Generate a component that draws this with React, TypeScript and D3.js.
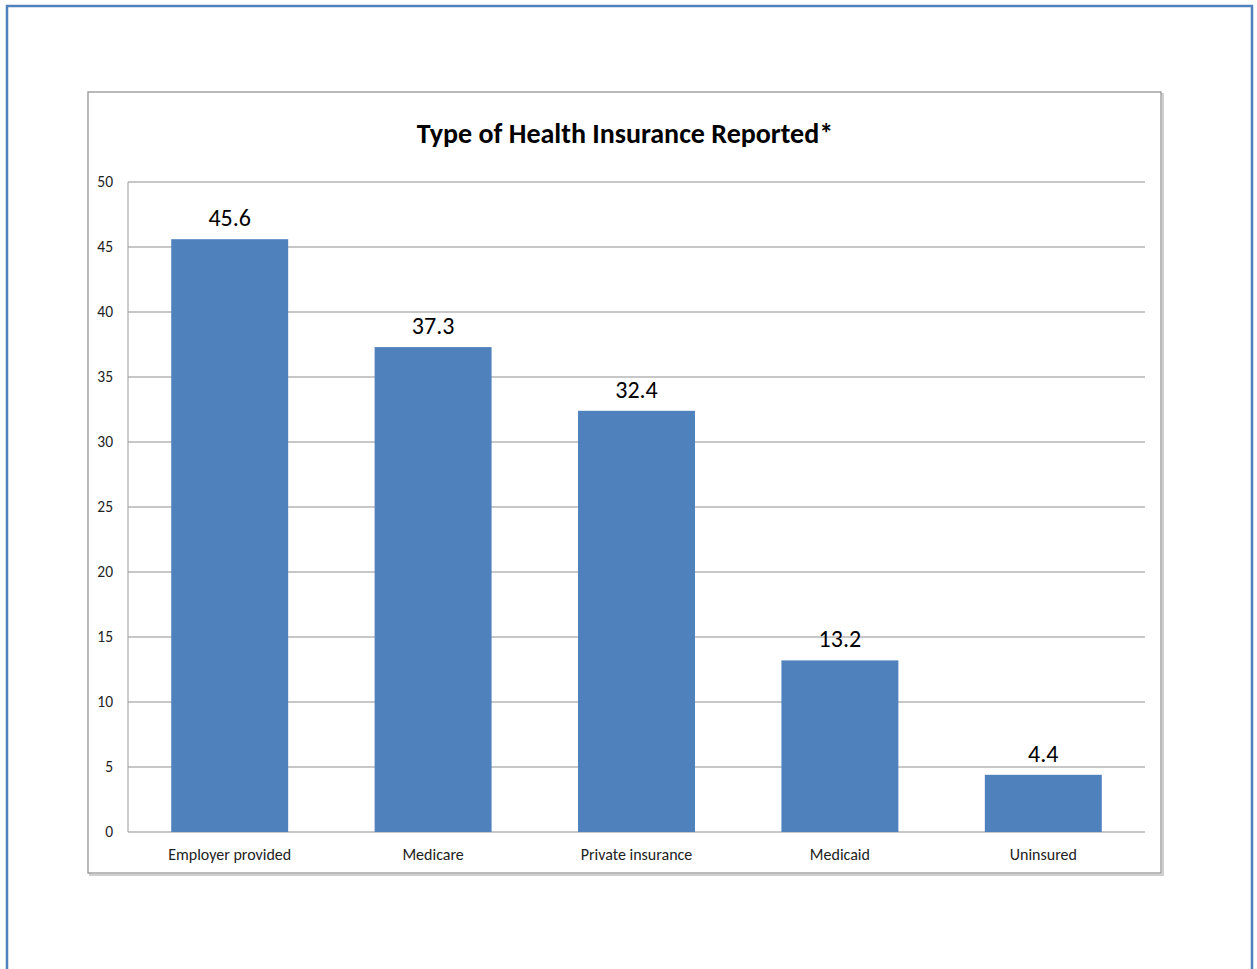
import React from "react";
import * as d3 from "d3";

const categories = ["Employer provided", "Medicare", "Private insurance", "Medicaid", "Uninsured"];
const values = [45.6, 37.3, 32.4, 13.2, 4.4];
const yTicks = [0, 5, 10, 15, 20, 25, 30, 35, 40, 45, 50];
const title = "Type of Health Insurance Reported*";

export default function App() {
  const W = 1257, H = 969;
  const plot = { left: 128, right: 1145, top: 182, bottom: 832 };
  const x = d3.scaleBand<string>().domain(categories).range([plot.left, plot.right]).paddingInner(0.425).paddingOuter(0.2125);
  const y = d3.scaleLinear().domain([0, 50]).range([plot.bottom, plot.top]);
  const font = "Calibri, Carlito, 'Open Sans', 'Liberation Sans', sans-serif";
  return (
    <svg width={W} height={H} style={{ position: "absolute", left: 0, top: 0 }} fontFamily={font}>
      <rect x={0} y={0} width={W} height={H} fill="#ffffff" />
      <rect x={7} y={6} width={1245} height={1000} fill="none" stroke="#4f81bd" strokeWidth={2.5} />
      <rect x={90} y={94} width={1073} height={781} fill="none" stroke="#cfcfcf" strokeWidth={2} />
      <rect x={88} y={92} width={1073} height={781} fill="#ffffff" stroke="#8c8c8c" strokeWidth={1.2} />
      <text x={625} y={143} textAnchor="middle" fontSize={28} fontWeight="bold" fill="#000">{title}</text>
      {yTicks.map((t) => (
        <g key={t}>
          <line x1={plot.left} x2={plot.right} y1={y(t)} y2={y(t)} stroke="#8f8f8f" strokeWidth={1} />
          <text x={113} y={y(t)} dy="0.35em" textAnchor="end" fontSize={15.5} fill="#222">{t}</text>
        </g>
      ))}
      <line x1={plot.left} x2={plot.left} y1={plot.top} y2={plot.bottom} stroke="#9a9a9a" strokeWidth={1} />
      {categories.map((c, i) => (
        <g key={c}>
          <rect x={x(c)} y={y(values[i])} width={x.bandwidth()} height={plot.bottom - y(values[i])} fill="#4f81bd" />
          <text x={(x(c) as number) + x.bandwidth() / 2} y={y(values[i]) - 13} textAnchor="middle" fontSize={24} fill="#000">{values[i].toFixed(1)}</text>
          <text x={(x(c) as number) + x.bandwidth() / 2} y={860} textAnchor="middle" fontSize={16} fill="#222">{c}</text>
        </g>
      ))}
    </svg>
  );
}
